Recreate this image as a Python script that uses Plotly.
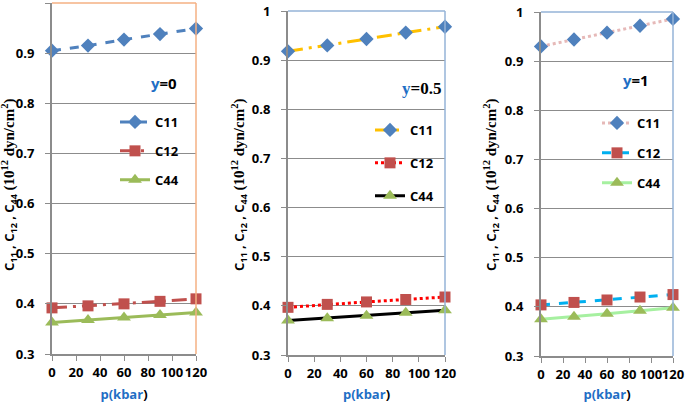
import plotly.graph_objects as go

p_kbar = [0, 30, 60, 90, 120]

# y = 0
c11_y0 = [0.905, 0.915, 0.927, 0.938, 0.949]
c12_y0 = [0.392, 0.396, 0.400, 0.405, 0.410]
c44_y0 = [0.363, 0.368, 0.373, 0.378, 0.383]
# y = 0.5
c11_y05 = [0.918, 0.930, 0.943, 0.956, 0.968]
c12_y05 = [0.397, 0.403, 0.408, 0.413, 0.418]
c44_y05 = [0.370, 0.375, 0.380, 0.386, 0.391]
# y = 1
c11_y1 = [0.930, 0.944, 0.958, 0.972, 0.986]
c12_y1 = [0.404, 0.409, 0.414, 0.420, 0.425]
c44_y1 = [0.375, 0.380, 0.386, 0.392, 0.398]

series_names = ["C11", "C12", "C44"]
panel_labels = ["y=0", "y=0.5", "y=1"]
x_ticks = [0, 20, 40, 60, 80, 100, 120]
x_tick_labels = ["0", "20", "40", "60", "80", "100", "120"]
y_ticks = [0.3, 0.4, 0.5, 0.6, 0.7, 0.8, 0.9, 1.0]
y_tick_labels = ["0.3", "0.4", "0.5", "0.6", "0.7", "0.8", "0.9", "1"]

W, H = 685, 403
BLUE_M = "#4F81BD"
RED_M = "#C0504D"
GREEN_M = "#9BBB59"
SANS = "Open Sans"
SERIF = "Liberation Serif"

panels = [
    dict(data=[c11_y0, c12_y0, c44_y0],
         lines=[dict(color=BLUE_M, dash="dash", width=3),
                dict(color=RED_M, dash="longdashdot", width=3),
                dict(color=GREEN_M, dash="solid", width=3)],
         px=(52, 196), py=(3, 354), border="#F4B183",
         legend=(115, 107), label=(164, 83), labfont=SANS, ytx=9),
    dict(data=[c11_y05, c12_y05, c44_y05],
         lines=[dict(color="#FFC000", dash="longdashdot", width=3),
                dict(color="#FF0000", dash="dot", width=3),
                dict(color="#000000", dash="solid", width=3)],
         px=(288, 445), py=(11, 355), border="#95B3D7",
         legend=(370, 115), label=(421, 89), labfont=SERIF, ytx=239),
    dict(data=[c11_y1, c12_y1, c44_y1],
         lines=[dict(color="#E6B9B8", dash="dot", width=3),
                dict(color="#00B0F0", dash="dash", width=3),
                dict(color="#A6F0A0", dash="solid", width=3)],
         px=(541, 673), py=(12, 356), border="#95B3D7",
         legend=(597, 108), label=(636, 80), labfont=SANS, ytx=491),
]
gaps = [9, 13, 10]
symbols = ["diamond", "square", "triangle-up"]
mcolors = [BLUE_M, RED_M, GREEN_M]
msizes = [11, 11, 12]


def bold(s):
    return "<b>" + s + "</b>"


fig = go.Figure()
layout = dict(width=W, height=H, margin=dict(l=0, r=0, t=0, b=0, autoexpand=False),
              plot_bgcolor="white", paper_bgcolor="white", showlegend=True,
              font=dict(family=SANS, size=12, color="#000000"))
annotations = []
shapes = []
for i, pn in enumerate(panels):
    k = "" if i == 0 else str(i + 1)
    xa, ya = "x" + k, "y" + k
    leg = "legend" + k
    for j in range(3):
        fig.add_trace(go.Scatter(
            x=p_kbar, y=pn["data"][j], name=bold(series_names[j]), mode="lines+markers",
            xaxis=xa, yaxis=ya, legend=leg, legendgroup=f"g{i}{j}",
            line=pn["lines"][j],
            marker=dict(symbol=symbols[j], color=mcolors[j], size=msizes[j]),
            cliponaxis=False))
    x0, x1 = pn["px"]
    y0, y1 = pn["py"]
    layout["xaxis" + k] = dict(
        domain=[x0 / W, x1 / W], anchor=ya, range=[0, 120], tickvals=x_ticks,
        ticktext=[bold(t) for t in x_tick_labels], tickangle=0, automargin=False,
        ticks="outside", ticklen=5, tickcolor="#8C8C8C", showline=True,
        linecolor="#8C8C8C", linewidth=2, showgrid=False, zeroline=False,
        tickfont=dict(family=SANS, size=13, color="#000"),
        title=dict(text='<b><span style="color:#1F6FC5">p(kbar</span>)</b>',
                   font=dict(family=SANS, size=13), standoff=13))
    layout["yaxis" + k] = dict(
        domain=[1 - y1 / H, 1 - y0 / H], anchor=xa, range=[0.3, 1],
        tickvals=y_ticks, ticktext=[bold(t) for t in y_tick_labels], automargin=False,
        ticks="outside", ticklen=5, tickcolor="#8C8C8C", showline=True,
        linecolor="#8C8C8C", linewidth=2, showgrid=True, gridcolor="#8C8C8C",
        gridwidth=1, zeroline=False, ticklabelstandoff=8,
        tickfont=dict(family=SANS, size=13, color="#000"))
    lx, ly = pn["legend"]
    layout[leg] = dict(x=lx / W, y=1 - ly / H, xanchor="left", yanchor="top",
                       bgcolor="rgba(0,0,0,0)", tracegroupgap=gaps[i],
                       font=dict(family=SANS, size=13),
                       itemwidth=30)
    # top and right border
    shapes.append(dict(type="line", xref=xa + " domain", yref=ya + " domain",
                       x0=0, x1=1, y0=1, y1=1, line=dict(color=pn["border"], width=1.5)))
    shapes.append(dict(type="line", xref=xa + " domain", yref=ya + " domain",
                       x0=1, x1=1, y0=0, y1=1, line=dict(color=pn["border"], width=1.5)))
    ax, ay = pn["label"]
    lab_size = 17 if pn["labfont"] == SERIF else 15
    lab_txt = '<b><span style="color:#1F6FC5">y</span>' + panel_labels[i][1:] + "</b>"
    annotations.append(dict(text=lab_txt, x=ax / W, y=1 - ay / H, xref="paper",
                            yref="paper", showarrow=False, xanchor="center",
                            yanchor="middle",
                            font=dict(family=pn["labfont"], size=lab_size)))
    ytitle = (f'<b><span style="font-family:{SANS}">C<sub>11</sub> , C<sub>12</sub> , C<sub>44</sub></span>'
              f' <span style="font-family:{SERIF};font-size:15px">(10<sup>12</sup> dyn/cm<sup>2</sup>)</span></b>')
    annotations.append(dict(text=ytitle, x=pn["ytx"] / W, y=1 - 185 / H, xref="paper",
                            yref="paper", showarrow=False, textangle=-90,
                            xanchor="center", yanchor="middle",
                            font=dict(size=13)))

layout["annotations"] = annotations
layout["shapes"] = shapes
fig.update_layout(**layout)
fig.write_html("out.html", config={"displayModeBar": False},
               post_script="document.body.style.margin='0';document.body.style.padding='0';")
